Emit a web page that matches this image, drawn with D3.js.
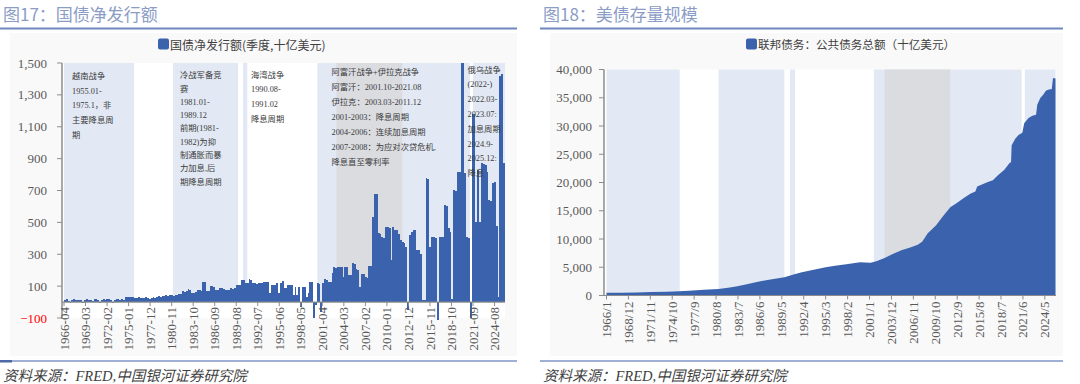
<!DOCTYPE html>
<html><head><meta charset="utf-8">
<script src="https://cdn.jsdelivr.net/npm/d3@7"></script>
<style>body{margin:0;background:#fff}svg{display:block}</style>
</head><body><svg id="c" width="1080" height="384"></svg>
<script>
// ---------------- DATA ----------------
const netStart = "1966-04"; // first quarter shown
const netIssuance = [
 12,18,8,-6,14,20,15,10,16,12,-4,15,18,10,14,6,17,20,12,-5,16,22,14,18,20,10,-3,15,22,18,12,20,16,30,33,
 32,34,30,28,26,30,24,28,27,30,26,22,28,30,25,32,36,34,38,40,
 42,40,45,44,38,46,42,48,50,70,
 65,68,80,78,58,60,62,75,73,70,
 127,125,71,70,100,98,95,75,74,86,
 86,84,75,76,74,86,85,87,107,105,
 106,138,136,121,120,142,140,117,118,116,
 121,120,122,127,126,125,54,107,108,106,
 117,54,118,132,88,86,107,106,105,44,
 96,44,96,-29,96,96,33,54,127,125,
 -100,-20,117,115,-60,117,142,140,127,126,
 180,217,215,221,222,220,155,221,220,169,
 170,243,240,205,204,96,176,175,155,154,
 226,224,535,681,678,431,430,406,405,468,
 468,466,263,468,451,452,430,389,378,368,
 347,-50,420,441,451,450,326,326,300,13,
 10,776,775,345,408,410,405,-110,408,408,
 408,608,605,462,440,20,702,700,817,815,
 1500,1500,807,408,400,-100,1183,1180,504,828,
 500,870,865,860,817,640,635,750,755,480,30,1420,1430,875
];
const leftXTicks = ["1966-04","1969-03","1972-02","1975-01","1977-12","1980-11","1983-10","1986-09","1989-08","1992-07","1995-06","1998-05","2001-04","2004-03","2007-02","2010-01","2012-12","2015-11","2018-10","2021-09","2024-08"];
const leftYTicks = [-100,100,300,500,700,900,1100,1300,1500];
const leftShadeFrom = ["1966-04","1981-01","1990-07","2000-08","2003-03","2021-09"];
const leftShadeTo   = ["1975-10","1989-11","1991-02","2021-04","2012-02","2026-01"];
const leftShadeKind = ["light","light","light","light","gray","light"];

const debtDates = ["1966-01","1968-01","1970-01","1972-01","1974-01","1975-09","1977-01","1979-01","1980-12","1982-06","1983-06","1984-09","1986-01","1987-06","1989-09","1991-01","1992-01","1993-06","1995-03","1996-06","1997-12","1999-10","2000-06","2001-03","2002-01","2003-02","2004-03","2005-04","2006-06","2007-06","2008-01","2008-04","2008-10","2009-11","2010-10","2011-10","2012-09","2013-07","2014-06","2015-02","2015-05","2016-10","2017-06","2018-02","2018-12","2019-09","2019-11","2019-12","2020-06","2020-11","2021-05","2021-08","2022-03","2022-09","2023-03","2023-05","2023-10","2024-02","2024-07","2025-01","2025-04","2025-06","2025-10"];
const debtValues = [470,500,540,600,660,750,850,1000,1150,1400,1650,2000,2400,2750,3250,3750,4100,4500,5000,5250,5550,5900,5850,5800,6100,6700,7400,8000,8500,9000,9500,10000,11000,12400,14000,15600,16400,17200,18000,18400,19300,20100,20400,21300,22200,23500,23600,26600,27800,28400,28800,30500,31400,31800,32000,33800,35000,35500,36300,36500,36500,38500,38400];
const rightXTicks = ["1966/1","1968/12","1971/11","1974/10","1977/9","1980/8","1983/7","1986/6","1989/5","1992/4","1995/3","1998/2","2001/1","2003/12","2006/11","2009/10","2012/9","2015/8","2018/7","2021/6","2024/5"];
const rightYTicks = [0,5000,10000,15000,20000,25000,30000,35000,40000];
const rightShadeFrom = ["1966-01","1980-12","1990-06","2001-08","2003-01","2021-09"];
const rightShadeTo   = ["1975-10","1989-09","1991-02","2021-04","2011-10","2025-10"];
const rightShadeKind = ["light","light","light","light","gray","light"];

const leftTitle = "图17：国债净发行额";
const rightTitle = "图18：美债存量规模";
const leftLegend = "国债净发行额(季度,十亿美元)";
const rightLegend = "联邦债务：公共债务总额（十亿美元）";
const source = "资料来源：FRED,中国银河证券研究院";
const annVietnam = ["越南战争","1955.01-","1975.1，非","主要降息周","期"];
const annColdWar = ["冷战军备竞","赛","1981.01-","1989.12","前期(1981-","1982)为抑","制通胀而暴","力加息,后","期降息周期"];
const annGulf = ["海湾战争","1990.08-","1991.02","降息周期"];
const annAfIraq = ["阿富汗战争+伊拉克战争","阿富汗：2001.10-2021.08","伊拉克：2003.03-2011.12","2001-2003：降息周期","2004-2006：连续加息周期","2007-2008：为应对次贷危机,","降息直至零利率"];
const annRusUkr = ["俄乌战争","(2022-)","2022.03-","2023.07:","加息周期","2024.9-","2025.12:","降息"];

// ---------------- STYLE ----------------
const BAR = "#3a62ad";
const LIGHT = "#e3e9f4";
const GRAY = "#dbdce0";
const AXIS = "#8c8c8c";
const TXT = "#595959";
const serif = "'Liberation Serif','Times New Roman','Noto Sans CJK SC',serif";
const cjk = "'Noto Sans CJK SC','Noto Sans',sans-serif";

const svg = d3.select("#c");
const pm = d3.timeParse("%Y-%m");
const ps = d3.timeParse("%Y/%m");

function frame(x0, x1, title) {
  svg.append("rect").attr("x", x0 + 10).attr("y", 33).attr("width", x1 - x0 - 10).attr("height", 323).attr("fill", "#f9f9f9");
  svg.append("text").attr("x", x0 + 3).attr("y", 21).attr("font-family", cjk).attr("font-size", 17)
    .attr("fill", "#8b9dc6").text(title);
  svg.append("line").attr("x1", x0).attr("x2", x1).attr("y1", 28.5).attr("y2", 28.5).attr("stroke", "#6d87bf").attr("stroke-width", 2);
  svg.append("line").attr("x1", x0).attr("x2", x1).attr("y1", 361).attr("y2", 361).attr("stroke", "#7f96c8").attr("stroke-width", 1.5);
  svg.append("text").attr("x", x0 + 3).attr("y", 381).attr("font-family", "'Liberation Serif','Noto Sans CJK SC',serif")
    .attr("font-style", "italic").attr("font-size", 14.5).attr("fill", "#3f3f3f").text(source);
}
function legend(xs, text, fs) {
  svg.append("rect").attr("x", xs).attr("y", 38.5).attr("width", 11).attr("height", 11).attr("rx", 2).attr("fill", BAR);
  svg.append("text").attr("x", xs + 12).attr("y", 44).attr("dominant-baseline", "central").attr("font-family", cjk)
    .attr("font-size", fs).attr("fill", "#404040").text(text);
}
function annotate(lines, x, y0, step) {
  const g = svg.append("g");
  lines.forEach((t, i) => g.append("text").attr("x", x).attr("y", y0 + i * step).attr("dominant-baseline", "central")
    .attr("font-family", serif).attr("font-size", 8.3).attr("fill", "#3a3a3a").text(t));
}

// ---------------- LEFT CHART ----------------
frame(0, 517, leftTitle);
svg.append("rect").attr("x", 0).attr("y", 360).attr("width", 12).attr("height", 2.5).attr("fill", "#4d69a8");
{
  const x = d3.scaleTime().domain([pm(netStart), pm("2026-01")]).range([64, 505]);
  const y = d3.scaleLinear().domain([-100, 1500]).range([318, 63]);
  svg.append("rect").attr("x", 62).attr("y", y(1500)).attr("width", 505 - 62).attr("height", y(-100) - y(1500)).attr("fill", "#fff");
  leftShadeFrom.forEach((f, i) => {
    const a = Math.max(62, x(pm(f))), b = Math.min(505, x(pm(leftShadeTo[i])));
    svg.append("rect").attr("x", a).attr("y", y(1500)).attr("width", b - a).attr("height", y(0) - y(1500))
      .attr("fill", leftShadeKind[i] === "gray" ? GRAY : LIGHT);
  });
  const s = pm(netStart);
  const bx = i => Math.round(x(d3.timeMonth.offset(s, 3 * i)));
  svg.append("g").attr("shape-rendering", "crispEdges").selectAll("rect").data(netIssuance).join("rect")
    .attr("x", (d, i) => bx(i))
    .attr("width", (d, i) => bx(i + 1) - bx(i))
    .attr("y", d => y(Math.min(1500, Math.max(0, d))))
    .attr("height", d => Math.abs(y(Math.min(1500, d)) - y(0)))
    .attr("fill", BAR);
  // y axis
  svg.append("line").attr("x1", 62).attr("x2", 62).attr("y1", y(1500)).attr("y2", y(-100)).attr("stroke", AXIS).attr("stroke-width", 1.5);
  leftYTicks.forEach(v => {
    svg.append("line").attr("x1", 57).attr("x2", 62).attr("y1", y(v)).attr("y2", y(v)).attr("stroke", AXIS);
    svg.append("text").attr("x", 47).attr("y", y(v)).attr("dominant-baseline", "central").attr("text-anchor", "end")
      .attr("font-family", serif).attr("font-size", 13).attr("fill", v < 0 ? "#ff0000" : TXT).text(d3.format(",")(v));
  });
  // x axis
  svg.append("line").attr("x1", 62).attr("x2", 505).attr("y1", y(0)).attr("y2", y(0)).attr("stroke", AXIS).attr("stroke-width", 1.2);
  leftXTicks.forEach(t => {
    const xx = x(pm(t));
    svg.append("line").attr("x1", xx).attr("x2", xx).attr("y1", y(0)).attr("y2", y(0) + 4).attr("stroke", AXIS);
    svg.append("text").attr("transform", `translate(${xx},${y(0) + 5}) rotate(-90)`).attr("text-anchor", "end")
      .attr("dy", "0.35em").attr("font-family", serif).attr("font-size", 13).attr("fill", TXT).text(t);
  });
  legend(158, leftLegend, 12);
  annotate(annVietnam, 72, 76.7, 14.6);
  annotate(annColdWar, 180, 75.7, 13.3);
  annotate(annGulf, 251, 75, 14.8);
  annotate(annAfIraq, 331.5, 72.7, 15);
  annotate(annRusUkr, 467.5, 70, 14.8);
}

// ---------------- RIGHT CHART ----------------
frame(540, 1063, rightTitle);
{
  const x = d3.scaleTime().domain([pm("1966-01"), pm("2025-10")]).range([606.5, 1055.5]);
  const y = d3.scaleLinear().domain([0, 40000]).range([295.5, 69.5]);
  svg.append("rect").attr("x", 604).attr("y", y(40000)).attr("width", 1056 - 604).attr("height", y(0) - y(40000)).attr("fill", "#fff");
  rightShadeFrom.forEach((f, i) => {
    const a = Math.max(604, x(pm(f))), b = Math.min(1056, x(pm(rightShadeTo[i])));
    svg.append("rect").attr("x", a).attr("y", y(40000)).attr("width", b - a).attr("height", y(0) - y(40000))
      .attr("fill", rightShadeKind[i] === "gray" ? GRAY : LIGHT);
  });
  const pts = debtDates.map((d, i) => ({ d: pm(d), v: debtValues[i] }));
  svg.append("path").datum(pts).attr("fill", BAR)
    .attr("d", d3.area().x(p => x(p.d)).y0(y(0)).y1(p => y(p.v)));
  svg.append("line").attr("x1", 604).attr("x2", 604).attr("y1", y(40000)).attr("y2", y(0)).attr("stroke", AXIS).attr("stroke-width", 1.5);
  rightYTicks.forEach(v => {
    svg.append("line").attr("x1", 599).attr("x2", 604).attr("y1", y(v)).attr("y2", y(v)).attr("stroke", AXIS);
    svg.append("text").attr("x", 592).attr("y", y(v)).attr("dominant-baseline", "central").attr("text-anchor", "end")
      .attr("font-family", serif).attr("font-size", 13).attr("fill", TXT).text(d3.format(",")(v));
  });
  svg.append("line").attr("x1", 604).attr("x2", 1056).attr("y1", y(0)).attr("y2", y(0)).attr("stroke", AXIS).attr("stroke-width", 1.2);
  rightXTicks.forEach(t => {
    const xx = x(ps(t));
    svg.append("line").attr("x1", xx).attr("x2", xx).attr("y1", y(0)).attr("y2", y(0) + 4).attr("stroke", AXIS);
    svg.append("text").attr("transform", `translate(${xx},${y(0) + 6}) rotate(-90)`).attr("text-anchor", "end")
      .attr("dy", "0.35em").attr("font-family", serif).attr("font-size", 13).attr("fill", TXT).text(t);
  });
  legend(746, rightLegend, 11.6);
}
</script>
</body></html>
